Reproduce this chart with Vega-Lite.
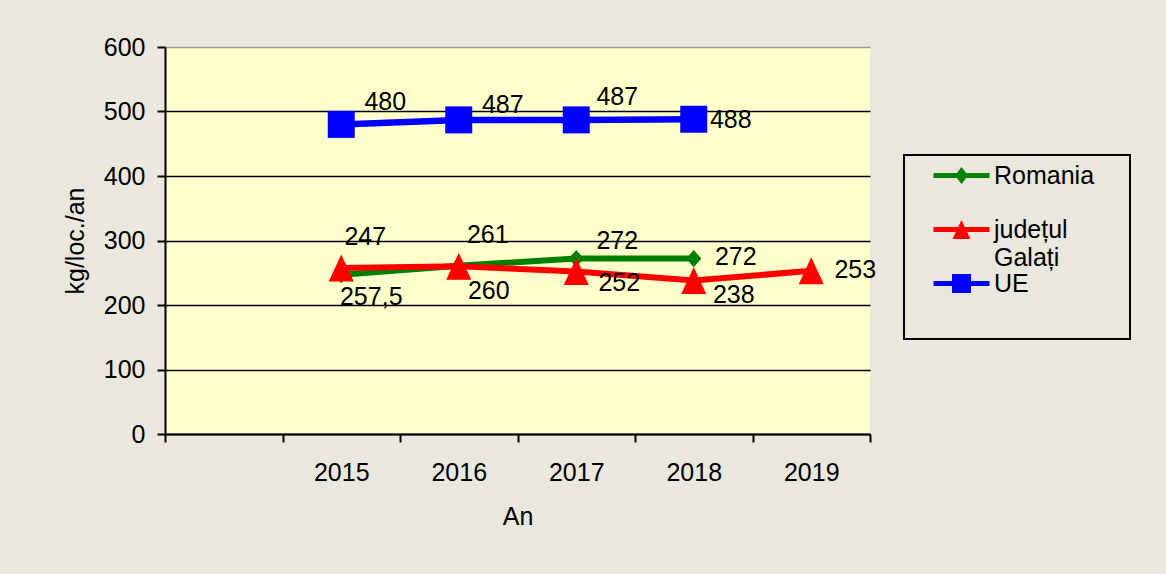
{
  "$schema": "https://vega.github.io/schema/vega-lite/v6.json",
  "width": 705,
  "height": 387,
  "autosize": {"type": "none"},
  "padding": {"left": 165, "top": 47, "right": 296, "bottom": 140},
  "background": "#E9E7DE",
  "config": {
    "font": "Liberation Sans",
    "view": {"fill": "#FFFFCC", "stroke": null},
    "locale": {"number": {"decimal": ",", "thousands": ".", "grouping": [3], "currency": ["", ""]}},
    "axis": {
      "labelFont": "Liberation Sans", "labelFontSize": 25, "labelColor": "black",
      "titleFont": "Liberation Sans", "titleFontSize": 25, "titleFontWeight": "normal", "titleColor": "black",
      "domainColor": "black", "domainWidth": 2, "tickColor": "black", "tickWidth": 2, "tickSize": 8
    }
  },
  "data": {"values": [
    {"year": "2015", "series": "Romania", "value": 247},
    {"year": "2016", "series": "Romania", "value": 261},
    {"year": "2017", "series": "Romania", "value": 272},
    {"year": "2018", "series": "Romania", "value": 272},
    {"year": "2015", "series": "județul Galați", "value": 257.5},
    {"year": "2016", "series": "județul Galați", "value": 260},
    {"year": "2017", "series": "județul Galați", "value": 252},
    {"year": "2018", "series": "județul Galați", "value": 238},
    {"year": "2019", "series": "județul Galați", "value": 253},
    {"year": "2015", "series": "UE", "value": 480},
    {"year": "2016", "series": "UE", "value": 487},
    {"year": "2017", "series": "UE", "value": 487},
    {"year": "2018", "series": "UE", "value": 488}
  ]},
  "encoding": {
    "x": {
      "field": "year", "type": "ordinal",
      "scale": {"type": "band", "domain": ["", "2015", "2016", "2017", "2018", "2019"], "paddingInner": 0, "paddingOuter": 0},
      "axis": {"title": "An", "labelAngle": 0, "tickBand": "extent", "grid": false, "labelPadding": 18, "titlePadding": 19}
    },
    "y": {
      "field": "value", "type": "quantitative",
      "scale": {"domain": [0, 600], "nice": false},
      "axis": {"title": "kg/loc./an", "values": [0, 100, 200, 300, 400, 500, 600], "grid": true,
               "gridColor": {"condition": {"test": "datum.value == 600", "value": "#999999"}, "value": "black"},
               "gridWidth": 1.5, "labelPadding": 12, "titlePadding": 15}
    }
  },
  "layer": [
    {
      "transform": [{"filter": "datum.series == 'Romania'"}],
      "mark": {"type": "line", "color": "#008000", "strokeWidth": 6,
               "point": {"filled": true, "color": "#008000", "shape": "M0,-1L0.88,0L0,1L-0.88,0Z", "size": 300}}
    },
    {
      "transform": [{"filter": "datum.series == 'județul Galați'"}],
      "mark": {"type": "line", "color": "#FF0000", "strokeWidth": 6,
               "point": {"filled": true, "color": "#FF0000", "shape": "M0,-1L0.93,1L-0.93,1Z", "size": 729}}
    },
    {
      "transform": [{"filter": "datum.series == 'UE'"}],
      "mark": {"type": "line", "color": "#0000FF", "strokeWidth": 6.5,
               "point": {"filled": true, "color": "#0000FF", "shape": "square", "size": 729}}
    },
    {
      "transform": [{"filter": "datum.series == 'Romania' && datum.year == '2015'"}],
      "mark": {"type": "text", "fontSize": 25, "color": "black", "dx": 24, "dy": -38},
      "encoding": {"text": {"field": "value", "type": "quantitative"}}
    },
    {
      "transform": [{"filter": "datum.series == 'Romania' && datum.year == '2016'"}],
      "mark": {"type": "text", "fontSize": 25, "color": "black", "dx": 29, "dy": -31},
      "encoding": {"text": {"field": "value", "type": "quantitative"}}
    },
    {
      "transform": [{"filter": "datum.series == 'Romania' && datum.year == '2017'"}],
      "mark": {"type": "text", "fontSize": 25, "color": "black", "dx": 41, "dy": -18},
      "encoding": {"text": {"field": "value", "type": "quantitative"}}
    },
    {
      "transform": [{"filter": "datum.series == 'Romania' && datum.year == '2018'"}],
      "mark": {"type": "text", "fontSize": 25, "color": "black", "dx": 42, "dy": -2},
      "encoding": {"text": {"field": "value", "type": "quantitative"}}
    },
    {
      "transform": [{"filter": "datum.series == 'județul Galați' && datum.year == '2015'"}],
      "mark": {"type": "text", "fontSize": 25, "color": "black", "dx": 30, "dy": 29},
      "encoding": {"text": {"field": "value", "type": "quantitative"}}
    },
    {
      "transform": [{"filter": "datum.series == 'județul Galați' && datum.year == '2016'"}],
      "mark": {"type": "text", "fontSize": 25, "color": "black", "dx": 30, "dy": 25},
      "encoding": {"text": {"field": "value", "type": "quantitative"}}
    },
    {
      "transform": [{"filter": "datum.series == 'județul Galați' && datum.year == '2017'"}],
      "mark": {"type": "text", "fontSize": 25, "color": "black", "dx": 43, "dy": 12},
      "encoding": {"text": {"field": "value", "type": "quantitative"}}
    },
    {
      "transform": [{"filter": "datum.series == 'județul Galați' && datum.year == '2018'"}],
      "mark": {"type": "text", "fontSize": 25, "color": "black", "dx": 40, "dy": 15},
      "encoding": {"text": {"field": "value", "type": "quantitative"}}
    },
    {
      "transform": [{"filter": "datum.series == 'județul Galați' && datum.year == '2019'"}],
      "mark": {"type": "text", "fontSize": 25, "color": "black", "dx": 44, "dy": -1},
      "encoding": {"text": {"field": "value", "type": "quantitative"}}
    },
    {
      "transform": [{"filter": "datum.series == 'UE' && datum.year == '2015'"}],
      "mark": {"type": "text", "fontSize": 25, "color": "black", "dx": 44, "dy": -22},
      "encoding": {"text": {"field": "value", "type": "quantitative"}}
    },
    {
      "transform": [{"filter": "datum.series == 'UE' && datum.year == '2016'"}],
      "mark": {"type": "text", "fontSize": 25, "color": "black", "dx": 44, "dy": -15},
      "encoding": {"text": {"field": "value", "type": "quantitative"}}
    },
    {
      "transform": [{"filter": "datum.series == 'UE' && datum.year == '2017'"}],
      "mark": {"type": "text", "fontSize": 25, "color": "black", "dx": 41, "dy": -23},
      "encoding": {"text": {"field": "value", "type": "quantitative"}}
    },
    {
      "transform": [{"filter": "datum.series == 'UE' && datum.year == '2018'"}],
      "mark": {"type": "text", "fontSize": 25, "color": "black", "dx": 37, "dy": 1},
      "encoding": {"text": {"field": "value", "type": "quantitative"}}
    },
    {
      "transform": [{"filter": "false"}],
      "mark": {"type": "point", "filled": true, "opacity": 1, "strokeWidth": 0},
      "encoding": {
        "color": {
          "field": "series", "type": "nominal",
          "scale": {"domain": ["Romania", "județul Galați", "UE"], "range": ["#008000", "#FF0000", "#0000FF"]},
          "legend": {
            "title": "\u200b\u00a0\u00a0\u00a0\u00a0\u00a0\u00a0\u00a0\u00a0\u00a0\u00a0\u00a0\u00a0\u00a0\u00a0\u00a0\u00a0\u00a0\u00a0\u00a0\u00a0\u00a0\u00a0\u00a0\u00a0\u00a0\u00a0\u00a0\u00a0\u00a0\u200b",
            "titleOrient": "bottom", "titleFontSize": 26, "titleLimit": 1000, "titlePadding": 8,
            "orient": "none", "legendX": 739, "legendY": 108,
            "padding": 8, "strokeColor": "black",
            "symbolSize": 400, "symbolOffset": 37, "labelOffset": 20, "rowPadding": 0,
            "symbolStrokeWidth": 0, "symbolOpacity": 1,
            "labelFont": "Liberation Sans", "labelFontSize": 25, "labelColor": "black", "labelLimit": 400,
            "labelExpr": "datum.label == 'județul Galați' ? ['județul', 'Galați'] : datum.label == 'Romania' ? ['Romania', ''] : datum.label",
            "encode": {
              "legend": {"update": {"strokeWidth": {"value": 2}}},
              "labels": {"update": {"lineHeight": {"value": 28}}}
            }
          }
        },
        "shape": {
          "field": "series", "type": "nominal",
          "scale": {"domain": ["Romania", "județul Galați", "UE"], "range": [
            "M-2.8,-0.25H2.8V0.25H-2.8Z M0,-0.85L0.65,0L0,0.85L-0.65,0Z",
            "M-2.8,-0.25H2.8V0.25H-2.8Z M0,-0.95L0.9,0.95L-0.9,0.95Z",
            "M-2.8,-0.25H2.8V0.25H-2.8Z M-0.95,-0.95H0.95V0.95H-0.95Z"
          ]}
        }
      }
    }
  ]
}
